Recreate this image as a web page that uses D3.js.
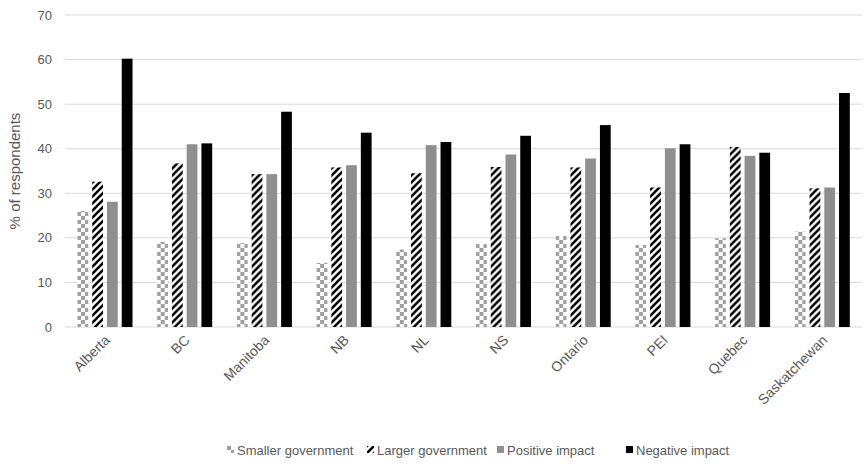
<!DOCTYPE html>
<html>
<head>
<meta charset="utf-8">
<script src="https://cdn.jsdelivr.net/npm/d3@7"></script>
<style>
  body { margin: 0; background: #fff; }
  text { font-family: "Liberation Sans", Arial, sans-serif; fill: #595959; }
</style>
</head>
<body>
<div id="chart"></div>
<script>
const provinces = ["Alberta", "BC", "Manitoba", "NB", "NL", "NS", "Ontario", "PEI", "Quebec", "Saskatchewan"];
const seriesNames = ["Smaller government", "Larger government", "Positive impact", "Negative impact"];
const smallerGov = [26, 19.1, 18.8, 14.4, 17.4, 18.6, 20.4, 18.4, 19.9, 21.4];
const largerGov = [32.6, 36.7, 34.3, 35.8, 34.5, 35.9, 35.8, 31.3, 40.4, 31.1];
const positiveImpact = [28.1, 41, 34.3, 36.3, 40.8, 38.7, 37.8, 40.1, 38.4, 31.3];
const negativeImpact = [60.2, 41.2, 48.3, 43.6, 41.5, 42.9, 45.3, 41, 39.1, 52.5];
const yTicks = [0, 10, 20, 30, 40, 50, 60, 70];

const W = 867, H = 466;
const svg = d3.select("#chart").append("svg").attr("width", W).attr("height", H);

const defs = svg.append("defs");
// small checkerboard
const checker = defs.append("pattern").attr("id", "checker")
  .attr("patternUnits", "userSpaceOnUse").attr("width", 8).attr("height", 8);
checker.append("rect").attr("width", 8).attr("height", 8).attr("fill", "#fff");
checker.append("rect").attr("width", 4).attr("height", 4).attr("fill", "#a0a0a0");
checker.append("rect").attr("x", 4).attr("y", 4).attr("width", 4).attr("height", 4).attr("fill", "#a0a0a0");
// wide upward diagonal
const hatch = defs.append("pattern").attr("id", "hatch")
  .attr("patternUnits", "userSpaceOnUse").attr("width", 7).attr("height", 7);
hatch.append("rect").attr("width", 7).attr("height", 7).attr("fill", "#fff");
hatch.append("path").attr("d", "M-1,8 L8,-1 M-4,4 L4,-4 M3,11 L11,3")
  .attr("stroke", "#000").attr("stroke-width", 2.6);

const fills = ["url(#checker)", "url(#hatch)", "#8f8f8f", "#000"];
const data = provinces.map((p, i) => ({
  province: p,
  values: [smallerGov[i], largerGov[i], positiveImpact[i], negativeImpact[i]]
}));

const x0 = d3.scaleBand().domain(provinces).range([65, 862]);
const x1 = d3.scaleBand().domain(d3.range(4)).range([12.5, 67.5]).paddingInner(0.27);
const y = d3.scaleLinear().domain([0, 70]).range([327, 15]);

// gridlines
svg.append("g").selectAll("line").data(yTicks).enter().append("line")
  .attr("x1", 65).attr("x2", 862)
  .attr("y1", d => y(d)).attr("y2", d => y(d))
  .attr("stroke", "#d9d9d9").attr("stroke-width", 1);

// y tick labels
svg.append("g").selectAll("text").data(yTicks).enter().append("text")
  .attr("x", 52).attr("y", d => y(d)).attr("dy", "0.35em")
  .attr("text-anchor", "end").attr("font-size", 13)
  .text(d => d);

svg.append("text")
  .attr("transform", "translate(20," + y(35) + ") rotate(-90)")
  .attr("text-anchor", "middle").attr("font-size", 15)
  .text("% of respondents");

// bars
const groups = svg.append("g").selectAll("g").data(data).enter().append("g")
  .attr("transform", d => "translate(" + x0(d.province) + ",0)");
groups.selectAll("rect").data(d => d.values).enter().append("rect")
  .attr("x", (d, i) => x1(i))
  .attr("width", x1.bandwidth())
  .attr("y", d => y(d))
  .attr("height", d => y(0) - y(d))
  .attr("fill", (d, i) => fills[i]);

// x labels
svg.append("g").selectAll("text").data(provinces).enter().append("text")
  .attr("transform", d => "translate(" + (x0(d) + x0.bandwidth() / 2 + 6) + ",341) rotate(-45)")
  .attr("text-anchor", "end").attr("font-size", 14)
  .text(d => d);

// legend
const legendX = [227, 367, 497, 626];
const legend = svg.append("g").selectAll("g").data(seriesNames).enter().append("g")
  .attr("transform", (d, i) => "translate(" + legendX[i] + ",446)");
legend.append("rect").attr("width", 7).attr("height", 7)
  .attr("fill", (d, i) => fills[i]);
legend.append("text").attr("x", 10).attr("y", 4).attr("dy", "0.35em")
  .attr("font-size", 13).text(d => d);
</script>
</body>
</html>
